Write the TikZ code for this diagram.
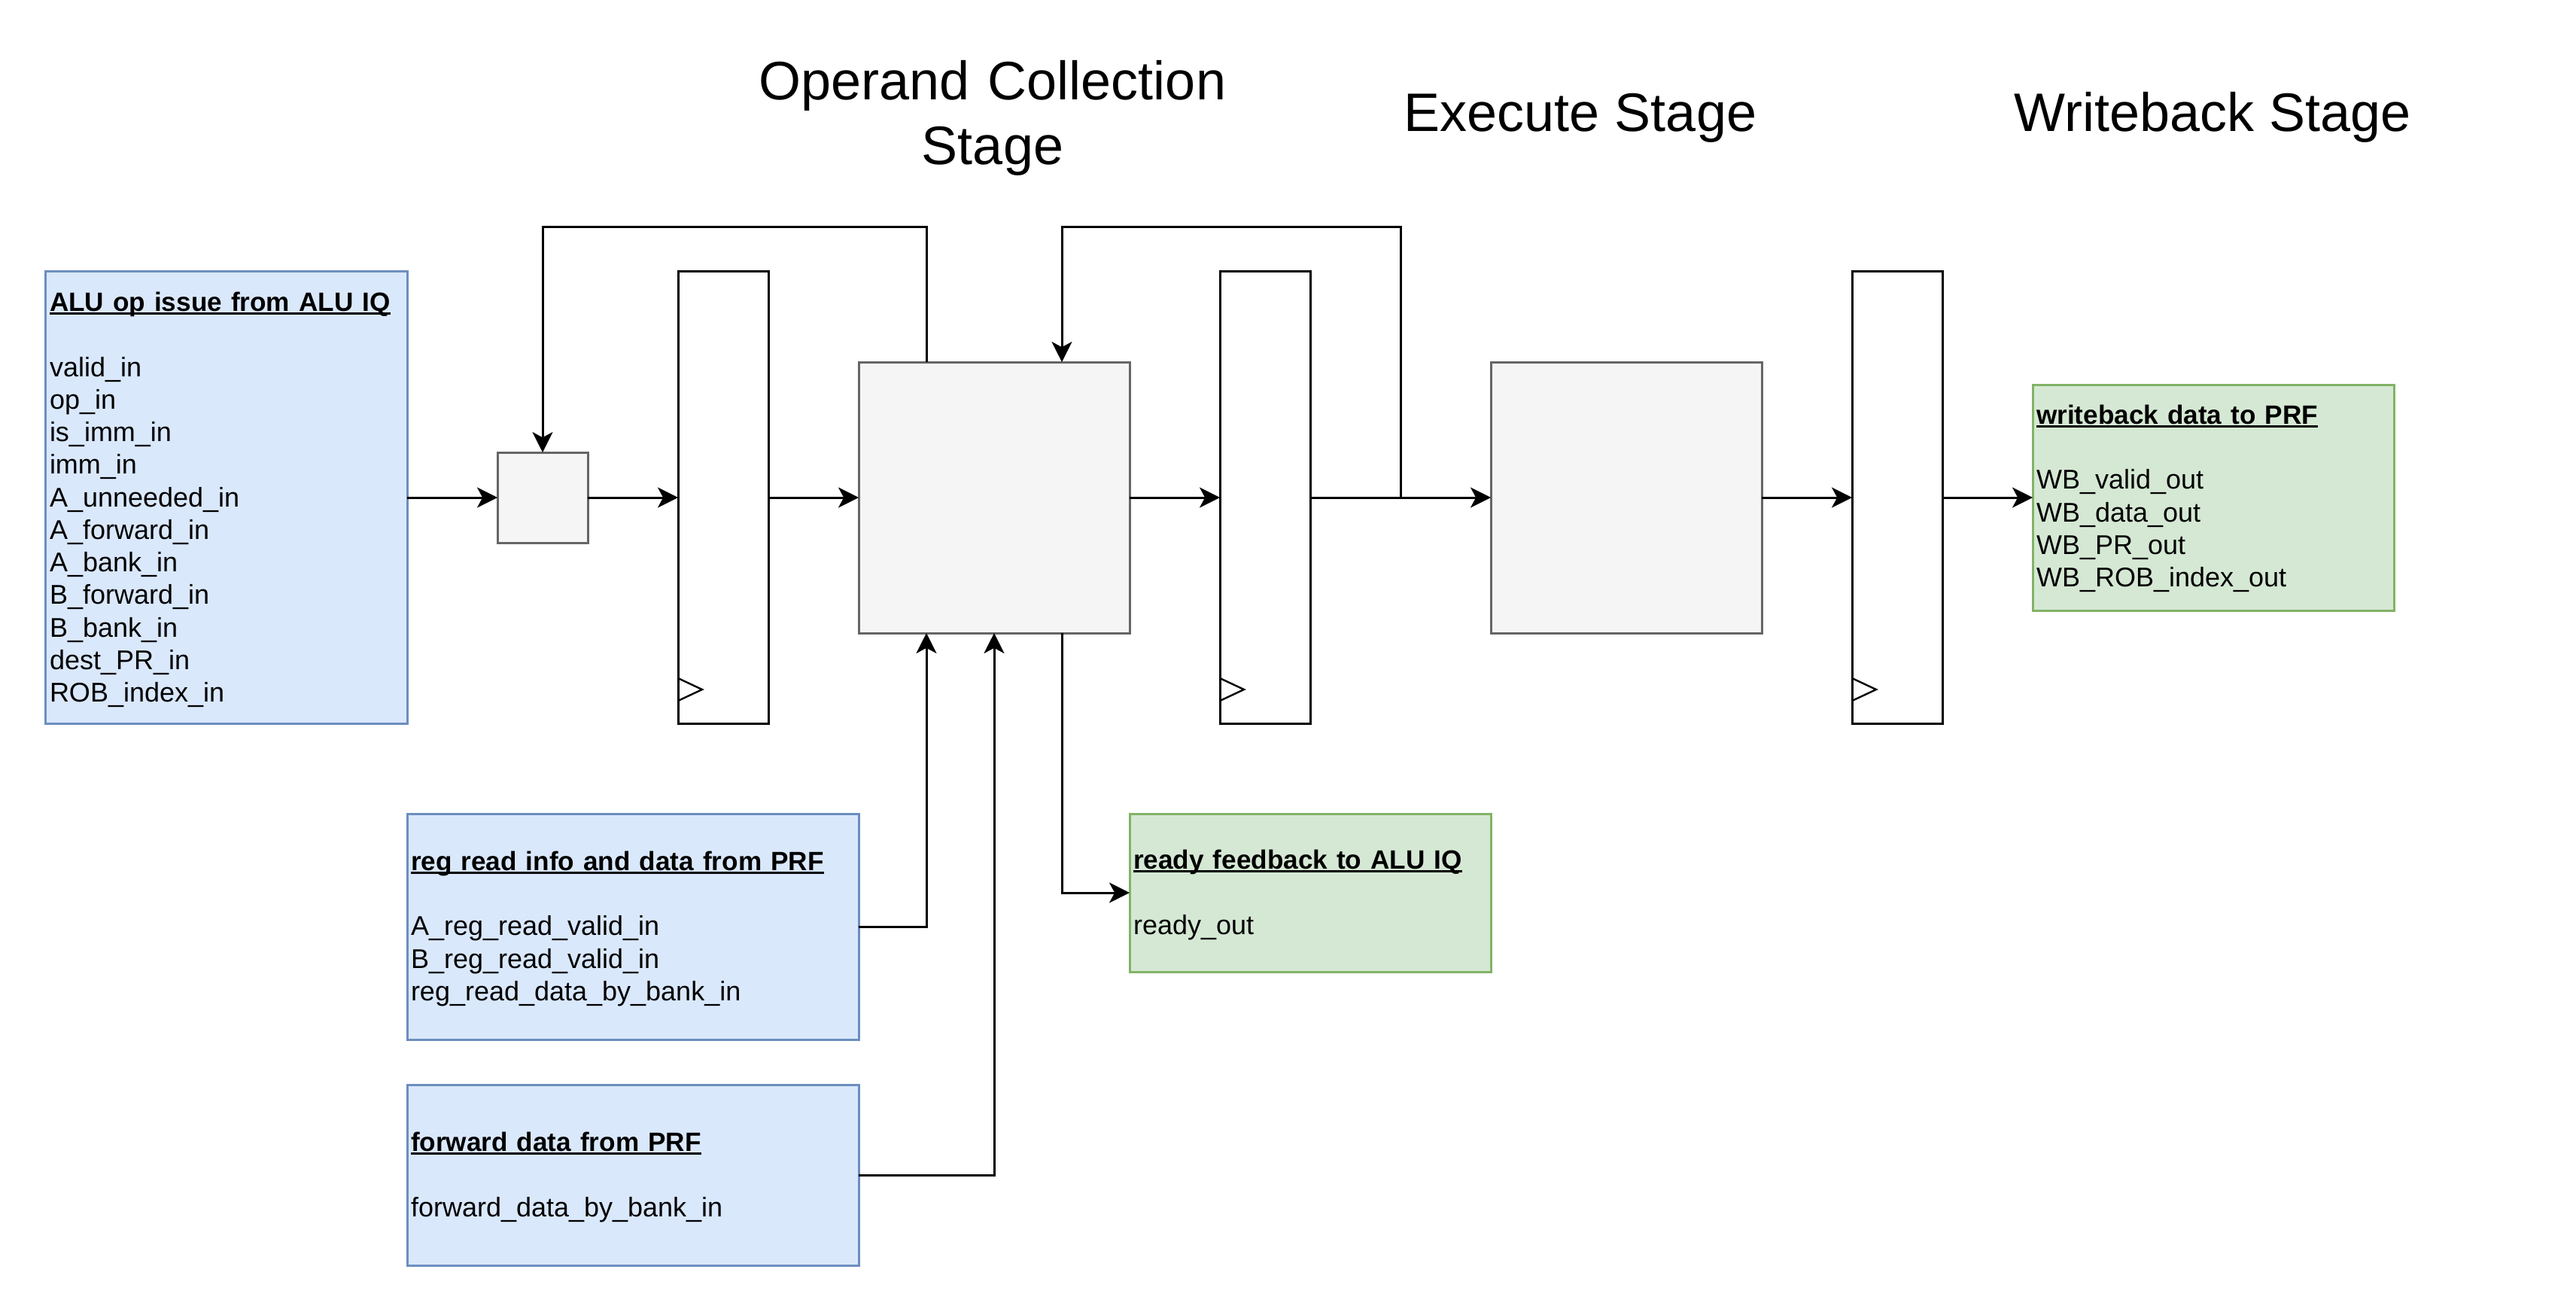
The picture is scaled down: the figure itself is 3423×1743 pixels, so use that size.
\documentclass[tikz,border=0pt]{standalone}
\usepackage{fontspec}
\setmainfont{Liberation Sans}
\usetikzlibrary{arrows.meta,calc}
\definecolor{bluefill}{HTML}{DAE8FC}
\definecolor{bluedraw}{HTML}{6C8EBF}
\definecolor{greenfill}{HTML}{D5E8D4}
\definecolor{greendraw}{HTML}{82B366}
\definecolor{grayfill}{HTML}{F5F5F5}
\definecolor{graydraw}{HTML}{666666}
\newcommand{\myul}[1]{\setbox0=\hbox{\fontsize{11.72pt}{14.42pt}\selectfont\bfseries #1}\rlap{\rule[-1.5pt]{\wd0}{1pt}}\box0}
\begin{document}
\begin{tikzpicture}[x=0.333333pt,y=-0.333333pt,line width=1pt,
  blk/.style={draw, rectangle, inner sep=0pt, outer sep=0pt},
  bluebox/.style={blk, draw=bluedraw, fill=bluefill},
  greenbox/.style={blk, draw=greendraw, fill=greenfill},
  graybox/.style={blk, draw=graydraw, fill=grayfill},
  regbox/.style={blk, draw=black, fill=white, minimum width=40pt, minimum height=200pt},
  arr/.style={-{Stealth[length=9pt,width=9pt,inset=2.4pt]}},
  clk/.style={line width=0.8pt},
  txt/.style={inner sep=0pt, outer sep=0pt, anchor=base west, align=left, text width=220pt,
    font=\fontsize{12pt}{14.42pt}\selectfont},
  ttl/.style={inner sep=0pt, outer sep=0pt, font=\fontsize{24pt}{28.8pt}\selectfont}
]
\fill[white] (0,0) rectangle (3423,1743);
\useasboundingbox (0,0) rectangle (3423,1743);

% titles
\node[ttl, text width=260pt, align=center, anchor=base] (octitle) at (1319,132) {Operand Collection\\Stage};
\node[ttl, anchor=base] (extitle) at (2100,175) {Execute Stage};
\node[ttl, anchor=base] (wbtitle) at (2940,175) {Writeback Stage};

% boxes
\node[bluebox, minimum width=160pt, minimum height=200pt] (alu) at (301,661) {};
\node[graybox, minimum width=40pt, minimum height=40pt] (mux) at (721,661) {};
\node[regbox] (r1) at (961,661) {};
\node[graybox, minimum width=120pt, minimum height=120pt] (oc) at (1321,661) {};
\node[regbox] (r2) at (1681,661) {};
\node[graybox, minimum width=120pt, minimum height=120pt] (ex) at (2161,661) {};
\node[regbox] (r3) at (2521,661) {};
\node[greenbox, minimum width=160pt, minimum height=100pt] (wb) at (2941,661) {};
\node[bluebox, minimum width=200pt, minimum height=100pt] (rr) at (841,1231) {};
\node[bluebox, minimum width=200pt, minimum height=80pt] (fw) at (841,1561) {};
\node[greenbox, minimum width=160pt, minimum height=70pt] (rdy) at (1741,1186) {};

% clock marks
\foreach \r in {r1,r2,r3}{
  \draw[clk] (\r.south west) ++(0,-60) -- ++(32,15) -- ++(-32,15);
}

% texts
\node[txt] (alut) at (66,413.5) {\myul{ALU op issue from ALU IQ}\\[14.42pt]
valid\_in\\op\_in\\is\_imm\_in\\imm\_in\\A\_unneeded\_in\\A\_forward\_in\\A\_bank\_in\\B\_forward\_in\\B\_bank\_in\\dest\_PR\_in\\ROB\_index\_in};
\node[txt] (wbt) at (2706,563.4) {\myul{writeback data to PRF}\\[14.42pt]
WB\_valid\_out\\WB\_data\_out\\WB\_PR\_out\\WB\_ROB\_index\_out};
\node[txt] (rrt) at (546,1156.3) {\myul{reg read info and data from PRF}\\[14.42pt]
A\_reg\_read\_valid\_in\\B\_reg\_read\_valid\_in\\reg\_read\_data\_by\_bank\_in};
\node[txt] (rdyt) at (1506,1154.5) {\myul{ready feedback to ALU IQ}\\[14.42pt]
ready\_out};
\node[txt] (fwt) at (546,1529.6) {\myul{forward data from PRF}\\[14.42pt]
forward\_data\_by\_bank\_in};

% connectors
\draw[arr] (alu.east) -- (mux.west);
\draw[arr] (mux.east) -- (r1.west);
\draw[arr] (r1.east) -- (oc.west);
\draw[arr] (oc.east) -- (r2.west);
\draw[arr] (r2.east) -- (ex.west);
\draw[arr] (ex.east) -- (r3.west);
\draw[arr] (r3.east) -- (wb.west);

\coordinate (fb1) at (1231,301);
\coordinate (fb2) at (1861,301);
\draw[arr] (fb1 |- oc.north) -- (fb1) -| (mux.north);
\draw[arr] (fb2 |- r2.east) -- (fb2) -| ([xshift=30pt]oc.north);

\draw[arr] (rr.east) -| ([xshift=-30pt]oc.south);
\draw[arr] (fw.east) -| (oc.south);
\draw[arr] ([xshift=30pt]oc.south) |- (rdy.west);
\end{tikzpicture}
\end{document}
